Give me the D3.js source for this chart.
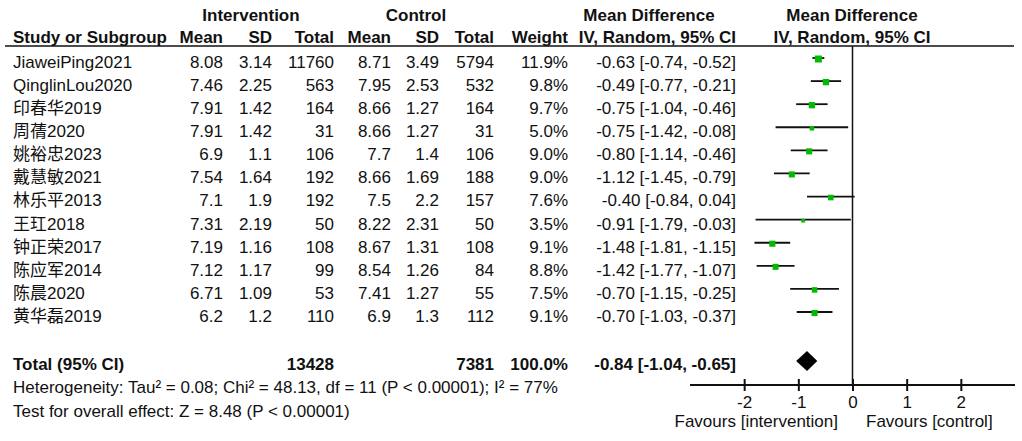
<!DOCTYPE html>
<html>
<head>
<meta charset="utf-8">
<script src="https://cdn.jsdelivr.net/npm/d3@7"></script>
<style>
  body { margin: 0; background: #fff; }
  text { font-family: "Liberation Sans", Arial, "Noto Sans CJK SC", sans-serif; fill: #111; }
  .hd { font-weight: bold; font-size: 17px; }
  .cell { font-size: 17px; }
</style>
</head>
<body>
<div class="container"></div>
<script>
const studies = ['JiaweiPing2021', 'QinglinLou2020', '印春华2019', '周蒨2020', '姚裕忠2023', '戴慧敏2021',
  '林乐平2013', '王玒2018', '钟正荣2017', '陈应军2014', '陈晨2020', '黄华磊2019']
const intMean = [8.08, 7.46, 7.91, 7.91, 6.9, 7.54, 7.1, 7.31, 7.19, 7.12, 6.71, 6.2]
const intSD = [3.14, 2.25, 1.42, 1.42, 1.1, 1.64, 1.9, 2.19, 1.16, 1.17, 1.09, 1.2]
const intTotal = [11760, 563, 164, 31, 106, 192, 192, 50, 108, 99, 53, 110]
const ctlMean = [8.71, 7.95, 8.66, 8.66, 7.7, 8.66, 7.5, 8.22, 8.67, 8.54, 7.41, 6.9]
const ctlSD = [3.49, 2.53, 1.27, 1.27, 1.4, 1.69, 2.2, 2.31, 1.31, 1.26, 1.27, 1.3]
const ctlTotal = [5794, 532, 164, 31, 106, 188, 157, 50, 108, 84, 55, 112]
const weights = [11.9, 9.8, 9.7, 5.0, 9.0, 9.0, 7.6, 3.5, 9.1, 8.8, 7.5, 9.1]
const md = [-0.63, -0.49, -0.75, -0.75, -0.80, -1.12, -0.40, -0.91, -1.48, -1.42, -0.70, -0.70]
const ciLow = [-0.74, -0.77, -1.04, -1.42, -1.14, -1.45, -0.84, -1.79, -1.81, -1.77, -1.15, -1.03]
const ciHigh = [-0.52, -0.21, -0.46, -0.08, -0.46, -0.79, 0.04, -0.03, -1.15, -1.07, -0.25, -0.37]

const totalInt = 13428
const totalCtl = 7381
const totalWeight = 100.0
const pooled = { md: -0.84, lo: -1.04, hi: -0.65 }
const axisTicks = [-2, -1, 0, 1, 2]
const heterogeneity = 'Heterogeneity: Tau² = 0.08; Chi² = 48.13, df = 11 (P < 0.00001); I² = 77%'
const overallTest = 'Test for overall effect: Z = 8.48 (P < 0.00001)'

const width = 1022
const height = 441

const svg = d3.select('.container').append('svg').attr('width', width).attr('height', height)

// plain hyphen for negatives, like the original
const loc = d3.formatLocale({ decimal: '.', thousands: ',', grouping: [3], currency: ['', ''], minus: '-' })
const f2 = loc.format('.2f')
const f1 = loc.format('.1f')
const ciText = (m, l, h) => `${f2(m)} [${f2(l)}, ${f2(h)}]`

const yRow = d3.scaleLinear().domain([0, studies.length - 1]).range([62, 316])
const x = d3.scaleLinear().domain([-3, 3]).range([690, 1015])
const boxSize = d3.scaleSqrt().domain([0, 12]).range([0, 7])

const textAt = (cls, str, xPos, yPos, anchor) =>
  svg.append('text').attr('class', cls).attr('x', xPos).attr('y', yPos)
    .attr('dy', '0.35em').attr('text-anchor', anchor).text(str)

// headers
textAt('hd', 'Intervention', 251, 15, 'middle')
textAt('hd', 'Control', 416, 15, 'middle')
textAt('hd', 'Mean Difference', 649, 15, 'middle')
textAt('hd', 'Mean Difference', 852, 15, 'middle')

const cols = [
  { label: 'Mean', x: 223, val: (i) => String(intMean[i]) },
  { label: 'SD', x: 272, val: (i) => String(intSD[i]) },
  { label: 'Total', x: 334, val: (i) => String(intTotal[i]) },
  { label: 'Mean', x: 391, val: (i) => String(ctlMean[i]) },
  { label: 'SD', x: 439, val: (i) => String(ctlSD[i]) },
  { label: 'Total', x: 494, val: (i) => String(ctlTotal[i]) },
  { label: 'Weight', x: 568, val: (i) => f1(weights[i]) + '%' },
  { label: 'IV, Random, 95% CI', x: 736, val: (i) => ciText(md[i], ciLow[i], ciHigh[i]) }
]

textAt('hd', 'Study or Subgroup', 13, 37, 'start')
cols.forEach((c) => textAt('hd', c.label, c.x, 37, 'end'))
textAt('hd', 'IV, Random, 95% CI', 852, 37, 'middle')

svg.append('line').attr('x1', 5).attr('x2', 1014).attr('y1', 46).attr('y2', 46)
  .attr('stroke', '#111').attr('stroke-width', 1.5)

// study rows
studies.forEach((s, i) => {
  const y = yRow(i)
  textAt('cell', s, 13, y, 'start')
  cols.forEach((c) => textAt('cell', c.val(i), c.x, y, 'end'))
})

// total row
const yTot = 364
textAt('hd', 'Total (95% CI)', 13, yTot, 'start')
textAt('hd', String(totalInt), 334, yTot, 'end')
textAt('hd', String(totalCtl), 494, yTot, 'end')
textAt('hd', f1(totalWeight) + '%', 568, yTot, 'end')
textAt('hd', ciText(pooled.md, pooled.lo, pooled.hi), 736, yTot, 'end')
textAt('cell', heterogeneity, 13, 387, 'start')
textAt('cell', overallTest, 13, 411, 'start')

// forest plot
const axisY = 385
svg.append('line').attr('x1', x(0)).attr('x2', x(0)).attr('y1', 46).attr('y2', axisY)
  .attr('stroke', '#111').attr('stroke-width', 1.5)

const plot = svg.append('g')
plot.selectAll('line.ci').data(studies).join('line').attr('class', 'ci')
  .attr('x1', (d, i) => x(ciLow[i])).attr('x2', (d, i) => x(ciHigh[i]))
  .attr('y1', (d, i) => yRow(i) - 4).attr('y2', (d, i) => yRow(i) - 4)
  .attr('stroke', '#111').attr('stroke-width', 1.8)

plot.selectAll('rect.box').data(studies).join('rect').attr('class', 'box')
  .attr('x', (d, i) => x(md[i]) - boxSize(weights[i]) / 2)
  .attr('y', (d, i) => yRow(i) - 3 - boxSize(weights[i]) / 2)
  .attr('width', (d, i) => boxSize(weights[i]))
  .attr('height', (d, i) => boxSize(weights[i]))
  .attr('fill', '#00bb00')

const dy = 361
plot.append('path')
  .attr('d', `M${x(pooled.lo)},${dy} L${x(pooled.md)},${dy - 10} L${x(pooled.hi)},${dy} L${x(pooled.md)},${dy + 10} Z`)
  .attr('fill', '#000')

const axis = d3.axisBottom(x).tickValues(axisTicks).tickSize(6).tickFormat(loc.format('d'))
const gAxis = svg.append('g').attr('transform', `translate(0, ${axisY})`).call(axis)
gAxis.select('.domain').attr('stroke', '#111').attr('stroke-width', 2)
  .attr('d', `M${x(-3)},0H${x(3)}`)
gAxis.selectAll('.tick line').attr('y1', -6).attr('y2', 6).attr('stroke', '#111').attr('stroke-width', 2)
gAxis.selectAll('.tick text').attr('y', 11).attr('font-size', 17)
  .attr('font-family', '"Liberation Sans", Arial, sans-serif').attr('fill', '#111')

textAt('cell', 'Favours [intervention]', 838, 421, 'end')
textAt('cell', 'Favours [control]', 866, 421, 'start')
</script>
</body>
</html>
